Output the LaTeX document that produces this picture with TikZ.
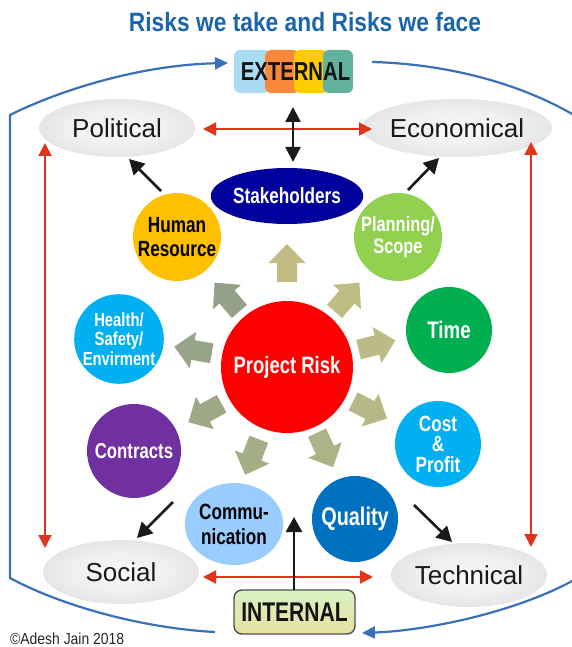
\documentclass[tikz,border=0pt]{standalone}
\usepackage{fontspec}
\setmainfont{Liberation Sans}
\newfontfamily\cnd[FakeStretch=0.78]{Liberation Sans}
\newfontfamily\cndt[FakeStretch=0.86]{Liberation Sans}
\newfontfamily\cndr[FakeStretch=0.87]{Liberation Sans}
\usetikzlibrary{shapes.geometric,arrows.meta,calc}
\newcommand{\myfs}[2]{\fontsize{#1}{#2}\selectfont}
\definecolor{titleblue}{RGB}{28,100,172}
\definecolor{bluec}{RGB}{58,112,184}
\definecolor{redc}{RGB}{224,52,28}
\definecolor{extA}{RGB}{169,219,242}
\definecolor{extB}{RGB}{248,136,60}
\definecolor{extC}{RGB}{255,203,5}
\definecolor{extD}{RGB}{98,178,158}
\definecolor{intTop}{RGB}{216,242,196}
\definecolor{intBot}{RGB}{232,224,160}
\definecolor{intBorder}{RGB}{80,80,80}
\definecolor{stkc}{RGB}{0,0,156}
\definecolor{hrc}{RGB}{255,192,0}
\definecolor{planc}{RGB}{146,208,80}
\definecolor{timec}{RGB}{0,176,80}
\definecolor{hsec}{RGB}{0,176,240}
\definecolor{conc}{RGB}{112,48,160}
\definecolor{costc}{RGB}{0,176,240}
\definecolor{comc}{RGB}{153,204,255}
\definecolor{qualc}{RGB}{0,112,192}
\definecolor{prc}{RGB}{255,0,0}
\definecolor{ka1}{RGB}{194,188,132}
\definecolor{ka2}{RGB}{192,188,134}
\definecolor{ka3}{RGB}{189,187,133}
\definecolor{ka4}{RGB}{182,184,134}
\definecolor{ka5}{RGB}{172,179,134}
\definecolor{ka6}{RGB}{163,173,134}
\definecolor{ka7}{RGB}{157,168,134}
\definecolor{ka8}{RGB}{152,164,135}
\definecolor{ka9}{RGB}{148,160,136}
\pgfdeclareradialshading{ellsh}{\pgfpoint{0bp}{0bp}}{color(0bp)=(white!97!black); color(15bp)=(white!94!black); color(40bp)=(white!84!black); color(50bp)=(white!76!black)}
\begin{document}
\begin{tikzpicture}[x=1pt,y=-1pt,
  grayell/.style={ellipse, shading=ellsh, minimum width=156pt, minimum height=#1, inner sep=0pt, font=\myfs{26}{26}, text=black!90},
  circ/.style={circle, minimum size=#1, inner sep=0pt, align=center, text=white},
  bluel/.style={draw=bluec, line width=2.2pt},
  redar/.style={draw=redc, line width=2pt, arrows={Triangle[length=13pt,width=13pt]-Triangle[length=13pt,width=13pt]}},
  blkar/.style={draw=black!90, line width=2.6pt, arrows={-Triangle[length=15pt,width=16pt]}},
  blkdbl/.style={draw=black!90, line width=2.6pt, arrows={Triangle[length=15pt,width=15pt]-Triangle[length=15pt,width=15pt]}},
  blkarrow/.pic={\fill[#1] (-19,-10) -- (0,-10) -- (0,-18.5) -- (19,0) -- (0,18.5) -- (0,10) -- (-19,10) -- cycle;}
]
\useasboundingbox (0,0) rectangle (572,647);
\clip (0,0) rectangle (572,647);

% title
\node[font=\cndt\bfseries\myfs{26.5}{28}, text=titleblue, anchor=base, inner sep=0pt] (title) at (305,32) {Risks we take and Risks we face};

% EXTERNAL
\fill[extA, rounded corners=6pt] (234,50) rectangle (270,93);
\fill[extB, rounded corners=6pt] (265,50) rectangle (299,93);
\fill[extC, rounded corners=6pt] (294,50) rectangle (328,93);
\fill[extD, rounded corners=6pt] (323,50) rectangle (353,93);
\node[minimum width=119pt, minimum height=43pt, inner sep=0pt, font=\cnd\bfseries\myfs{26}{26}, text=black!92] (ext) at (295.5,71.5) {EXTERNAL};

% INTERNAL
\node[draw=intBorder, line width=1.4pt, rounded corners=8pt, top color=intTop, bottom color=intBot, minimum width=121pt, minimum height=44pt, inner sep=0pt, font=\cnd\bfseries\myfs{27}{27}, text=black!92] (int) at (294.5,612) {INTERNAL};

% gray ellipses
\node[grayell=58pt] (pol) at (117,128) {Political};
\node[grayell=58pt] (eco) at (457,128) {Economical};
\node[grayell=64pt] (soc) at (121,572) {Social};
\node[grayell=64pt] (tech) at (469,575) {Technical};

% circles
\node[ellipse, fill=stkc, minimum width=118pt, minimum height=56pt, inner sep=0pt, text=white, font=\cnd\bfseries\myfs{22}{22}] (stk) at (287,196) {Stakeholders};
\node[circ=88pt, fill=hrc, text=black, font=\cnd\bfseries\myfs{22}{24}] (hr) at (177,237) {Human\\Resource};
\node[circ=88pt, fill=planc, font=\cnd\bfseries\myfs{21}{22.5}] (plan) at (398,237) {Planning/\\Scope};
\node[circ=86pt, fill=timec, font=\cnd\bfseries\myfs{24}{24}] (time) at (449,330) {Time};
\node[circ=86pt, fill=hsec, font=\cnd\bfseries\myfs{19}{19.5}] (hse) at (119,339) {Health/\\Safety/\\Envirment};
\node[circ=94pt, fill=conc, font=\cnd\bfseries\myfs{21.5}{22}] (con) at (134,451) {Contracts};
\node[circ=86pt, fill=costc, font=\cnd\bfseries\myfs{22}{20.5}] (cost) at (438,444) {Cost\\\&\\Profit};
\node[ellipse, fill=comc, minimum width=92pt, minimum height=82pt, inner sep=0pt, align=center, text=black, font=\cnd\bfseries\myfs{22}{25}] (com) at (234,524) {Commu-\\nication};
\node[circ=86pt, fill=qualc, font=\cnd\bfseries\myfs{25.5}{26}] (qual) at (355,519) {Quality};
\node[circ=132pt, fill=prc, font=\cnd\bfseries\myfs{23.7}{24}] (pr) at (287,367) {Project Risk};

% block arrows around Project Risk
\pic[rotate=90]  at (287,263) {blkarrow=ka1};
\pic[rotate=49]  at (347,297) {blkarrow=ka2};
\pic[rotate=14]  at (377,345) {blkarrow=ka3};
\pic[rotate=-27] at (370,410) {blkarrow=ka4};
\pic[rotate=-65] at (325,450) {blkarrow=ka5};
\pic[rotate=-111] at (252,457) {blkarrow=ka6};
\pic[rotate=-151] at (205,413) {blkarrow=ka7};
\pic[rotate=170] at (193,350) {blkarrow=ka8};
\pic[rotate=131] at (227,297) {blkarrow=ka9};

% blue loop
\draw[bluel, arrows={-Triangle[length=13pt,width=12pt]}] ($(int)+(-79.5,20)$) .. controls (140,628) and (60,605) .. (10,578) -- (10,115) .. controls (60,90) and (140,65) .. ($(ext)+(-67.5,-8.5)$);
\draw[bluel, arrows={-Triangle[length=13pt,width=12pt]}] ($(ext)+(76.5,-9.5)$) .. controls (450,64) and (530,85) .. (590,125) -- (590,570) .. controls (540,605) and (440,630) .. ($(int)+(67.5,21)$);

% red double arrows
\draw[redar] ($(pol)+(86,1)$) -- ($(eco)+(-85,1)$);
\draw[redar] ($(soc)+(82,5)$) -- ($(tech)+(-96,2)$);
\draw[redar] ($(pol)+(-72,15)$) -- ($(soc)+(-76,-24)$);
\draw[redar] ($(eco)+(74,14)$) -- ($(tech)+(62,-28)$);

% black arrows
\draw[blkdbl] ($(ext)+(-2.5,35.5)$) -- ($(stk)+(6,-34)$);
\draw[blkar] ($(int)+(-0.5,-22)$) -- ($(qual)+(-61,-2)$);
\draw[blkar] ($(hr)+(-16,-46)$) -- ($(pol)+(12,31)$);
\draw[blkar] ($(plan)+(10,-47)$) -- ($(eco)+(-18,30)$);
\draw[blkar] ($(con)+(39,51)$) -- ($(soc)+(16,-34)$);
\draw[blkar] ($(qual)+(59,-14)$) -- ($(tech)+(-17,-33)$);

% copyright
\node[font=\cndr\myfs{16}{16}, anchor=base west, inner sep=0pt, text=black!85] (copy) at (10,644) {©Adesh Jain 2018};
\end{tikzpicture}
\end{document}
